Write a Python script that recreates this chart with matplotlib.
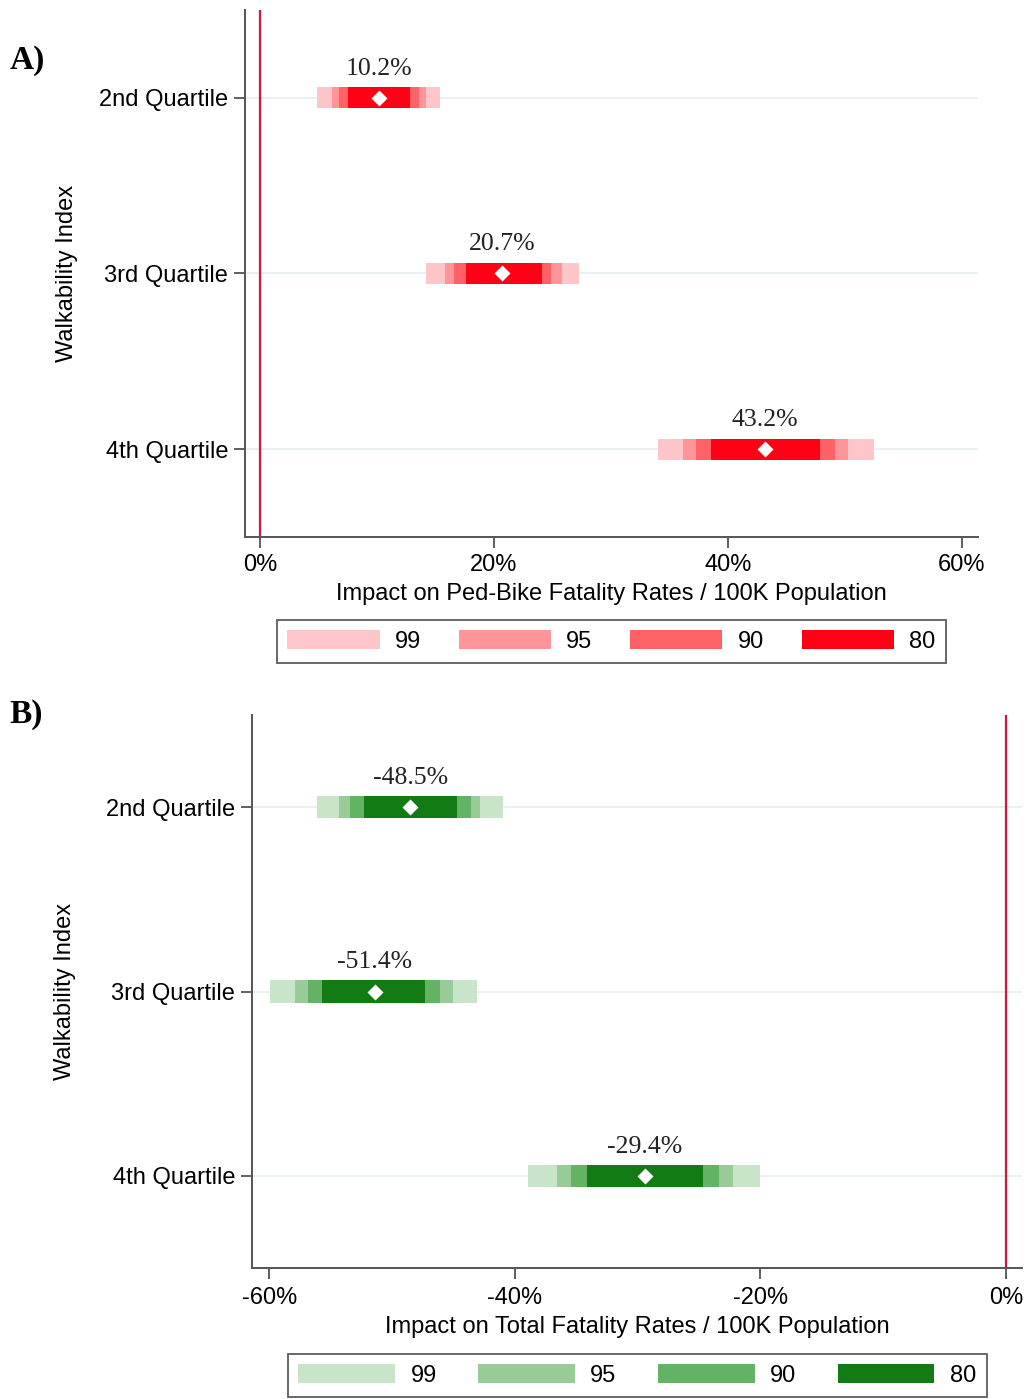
import matplotlib.pyplot as plt
from matplotlib.patches import Patch
from matplotlib.ticker import FuncFormatter

# rows (top to bottom)
quartiles = ['2nd Quartile', '3rd Quartile', '4th Quartile']
levels = ['99', '95', '90', '80']

# Panel A: ped-bike fatality rates (%)
a_point = [10.2, 20.7, 43.2]
a_lo = {'99': [4.9, 14.2, 34.0], '95': [6.2, 15.8, 36.2],
        '90': [6.8, 16.6, 37.3], '80': [7.5, 17.6, 38.6]}
a_hi = {'99': [15.4, 27.3, 52.5], '95': [14.2, 25.8, 50.3],
        '90': [13.6, 24.9, 49.2], '80': [12.8, 24.1, 47.9]}

# Panel B: total fatality rates (%)
b_point = [-48.5, -51.4, -29.4]
b_lo = {'99': [-56.1, -59.9, -38.9], '95': [-54.3, -57.9, -36.6],
        '90': [-53.4, -56.8, -35.4], '80': [-52.3, -55.7, -34.1]}
b_hi = {'99': [-41.0, -43.1, -20.0], '95': [-42.8, -45.0, -22.2],
        '90': [-43.6, -46.1, -23.4], '80': [-44.7, -47.3, -24.7]}

a_ticks = [0, 20, 40, 60]
b_ticks = [-60, -40, -20, 0]

reds = {'99': '#ffc6c9', '95': '#ff9598', '90': '#ff6266', '80': '#ff0014'}
greens = {'99': '#c9e5c9', '95': '#98cb98', '90': '#64b364', '80': '#137b13'}

SANS = 'Liberation Sans'
SERIF = 'Liberation Serif'
FS = 17

fig = plt.figure(figsize=(10.26, 13.99), dpi=100)
ax_a = fig.add_axes([0.2388, 0.6162, 0.7144, 0.3767])
ax_b = fig.add_axes([0.2456, 0.0936, 0.7505, 0.3953])


def draw_panel(ax, point, lo, hi, colors, ticks, xlim, xlabel, pad):
    ys = list(range(1, len(quartiles) + 1))
    for y in ys:
        ax.axhline(y, color='#e4eeef', lw=1.2, zorder=0)
    ax.axvline(0, color='#d0183c', lw=1.6, zorder=1)
    for lev in levels:
        widths = [h - l for l, h in zip(lo[lev], hi[lev])]
        ax.barh(ys, widths, left=lo[lev], height=0.12, color=colors[lev],
                linewidth=0, zorder=2)
    ax.plot(point, ys, 'D', color='white', ms=8.5, mec='none', zorder=3)
    for p, y in zip(point, ys):
        ax.annotate(f'{p:.1f}%', xy=(p, y), xytext=(0, 13),
                    textcoords='offset points', ha='center', va='bottom',
                    fontsize=18.5, family=SERIF, color='#222222')
    ax.set_ylim(3.5, 0.5)
    ax.set_xlim(*xlim)
    ax.set_yticks(ys)
    ax.set_yticklabels(quartiles, family=SANS, fontsize=FS)
    ax.set_xticks(ticks)
    ax.xaxis.set_major_formatter(FuncFormatter(lambda v, _: f'{v:.0f}%'))
    for lab in ax.get_xticklabels():
        lab.set_family(SANS)
        lab.set_fontsize(FS)
    ax.tick_params(axis='both', length=8, width=1.2, color='#444444', pad=4)
    ax.tick_params(axis='x', pad=pad)
    for s in ['top', 'right']:
        ax.spines[s].set_visible(False)
    for s in ['left', 'bottom']:
        ax.spines[s].set_color('#555555')
        ax.spines[s].set_linewidth(1.4)
    ax.set_xlabel(xlabel, family=SANS, fontsize=FS, labelpad=5)
    ax.set_ylabel('Walkability Index', family=SANS, fontsize=FS)


draw_panel(ax_a, a_point, a_lo, a_hi, reds, a_ticks, (-1.28, 61.4),
           'Impact on Ped-Bike Fatality Rates / 100K Population', 4)
ax_a.yaxis.set_label_coords(-0.228, 0.5)

draw_panel(ax_b, b_point, b_lo, b_hi, greens, b_ticks, (-61.4, 1.3),
           'Impact on Total Fatality Rates / 100K Population', 5.5)
ax_b.yaxis.set_label_coords(-0.228, 0.5)


def add_legend(colors, center, hl, cs):
    handles = [Patch(facecolor=colors[l], edgecolor='none') for l in levels]
    leg = fig.legend(handles, levels, loc='center', bbox_to_anchor=center,
                     ncol=4, frameon=True, fancybox=False, handlelength=hl,
                     handleheight=0.85, handletextpad=0.65, columnspacing=cs,
                     borderpad=0.45, prop={'family': SANS, 'size': FS})
    leg.get_frame().set_edgecolor('#333333')
    leg.get_frame().set_linewidth(1.3)


add_legend(reds, (0.596, 0.5415), 3.9, 1.6)
add_legend(greens, (0.621, 0.0168), 4.1, 1.75)

fig.text(0.009, 1 - 60 / 1399, 'A)', family=SERIF, fontsize=24,
         fontweight='bold', va='center')
fig.text(0.009, 1 - 715 / 1399, 'B)', family=SERIF, fontsize=24,
         fontweight='bold', va='center')

fig.savefig('out.png', dpi=100)
